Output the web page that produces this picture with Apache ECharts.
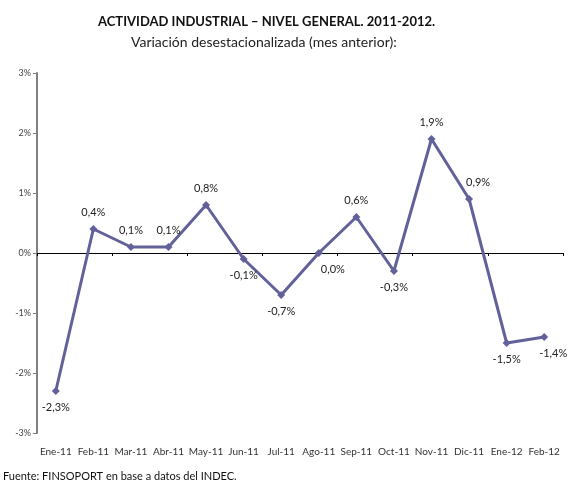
<!DOCTYPE html>
<html>
<head>
<meta charset="utf-8">
<script src="https://cdn.jsdelivr.net/npm/echarts@6/dist/echarts.min.js"></script>
<style>
html, body { margin: 0; padding: 0; background: #fff; }
#chart { width: 586px; height: 500px; }
</style>
</head>
<body>
<div id="chart"></div>
<script>
var months = ['Ene-11', 'Feb-11', 'Mar-11', 'Abr-11', 'May-11', 'Jun-11', 'Jul-11',
	'Ago-11', 'Sep-11', 'Oct-11', 'Nov-11', 'Dic-11', 'Ene-12', 'Feb-12'];
var variacion = [-2.3, 0.4, 0.1, 0.1, 0.8, -0.1, -0.7, 0.0, 0.6, -0.3, 1.9, 0.9, -1.5, -1.4];

var titulo = 'ACTIVIDAD INDUSTRIAL \u2013 NIVEL GENERAL. 2011-2012.';
var subtitulo = 'Variaci\u00f3n desestacionalizada (mes anterior):';
var fuente = 'Fuente: FINSOPORT en base a datos del INDEC.';

// a few labels sit a bit to the right of their point
var labelShift = { 7: [14, 0], 11: [9, 0], 13: [9, 0] };

var fmt = function (v) {
	return String(v.toFixed(1)).replace('.', ',') + '%';
};

var lineColor = '#62619a';
var font = 'Lato, "Open Sans", sans-serif';

var points = variacion.map(function (v, i) {
	return {
		value: v,
		label: {
			position: v > 0 ? 'top' : 'bottom',
			offset: labelShift[i] || [0, 0]
		}
	};
});

var chart = echarts.init(document.getElementById('chart'));

chart.setOption({
	backgroundColor: '#fff',
	animation: false,
	textStyle: { fontFamily: font },
	graphic: [
		{
			type: 'text', left: 98, top: 15,
			style: { text: titulo, font: 'bold 13px ' + font, fill: '#111' }
		},
		{
			type: 'text', left: 131, top: 35,
			style: { text: subtitulo, font: '14px ' + font, fill: '#222' }
		},
		{
			type: 'text', left: 3, top: 471,
			style: { text: fuente, font: '11px ' + font, fill: '#111' }
		}
	],
	grid: { left: 37, right: 23, top: 73, bottom: 67, containLabel: false },
	xAxis: [
		{
			type: 'category',
			data: months,
			position: 'top',
			axisLine: { onZero: true, lineStyle: { color: '#000', width: 1 } },
			axisTick: { show: true, inside: true, length: 3, lineStyle: { color: '#000' } },
			axisLabel: { show: false },
			splitLine: { show: false }
		},
		{
			type: 'category',
			data: months,
			position: 'bottom',
			axisLine: { show: false, onZero: false },
			axisTick: { show: false },
			axisLabel: { color: '#333', fontSize: 10, margin: 14, interval: 0, fontFamily: font },
			splitLine: { show: false }
		}
	],
	yAxis: {
		type: 'value',
		min: -3,
		max: 3,
		interval: 1,
		axisLine: { show: true, lineStyle: { color: '#7f7f7f', width: 2 } },
		axisTick: { show: true, length: 4, lineStyle: { color: '#7f7f7f' } },
		axisLabel: { color: '#444', fontSize: 9, margin: 6, formatter: '{value}%', fontFamily: font },
		splitLine: { show: false }
	},
	series: [{
		type: 'line',
		xAxisIndex: 0,
		data: points,
		symbol: 'diamond',
		symbolSize: 8,
		itemStyle: { color: lineColor },
		lineStyle: { color: lineColor, width: 3 },
		label: {
			show: true,
			distance: 7,
			color: '#222',
			fontSize: 11,
			fontFamily: font,
			formatter: function (p) { return fmt(p.value); }
		}
	}]
});

window.onresize = function () {
	chart.resize();
};
</script>
</body>
</html>
